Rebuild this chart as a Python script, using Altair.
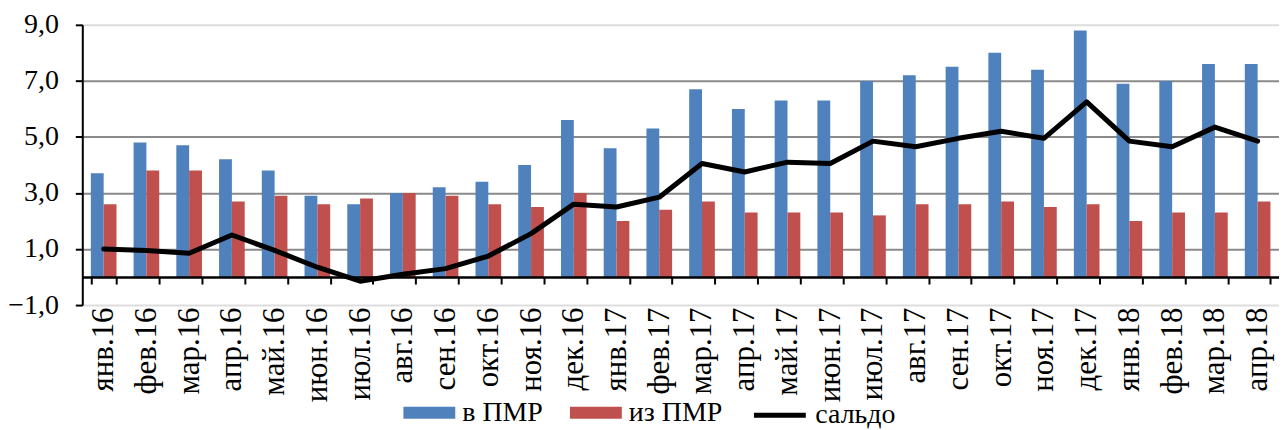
import altair as alt
import pandas as pd

months = ["янв.16", "фев.16", "мар.16", "апр.16", "май.16", "июн.16", "июл.16",
          "авг.16", "сен.16", "окт.16", "ноя.16", "дек.16", "янв.17", "фев.17",
          "мар.17", "апр.17", "май.17", "июн.17", "июл.17", "авг.17", "сен.17",
          "окт.17", "ноя.17", "дек.17", "янв.18", "фев.18", "мар.18", "апр.18"]
v_pmr = [3.7, 4.8, 4.7, 4.2, 3.8, 2.9, 2.6, 3.0, 3.2, 3.4, 4.0, 5.6, 4.6, 5.3,
         6.7, 6.0, 6.3, 6.3, 7.0, 7.2, 7.5, 8.0, 7.4, 8.8, 6.9, 7.0, 7.6, 7.6]
iz_pmr = [2.6, 3.8, 3.8, 2.7, 2.9, 2.6, 2.8, 3.0, 2.9, 2.6, 2.5, 3.0, 2.0, 2.4,
          2.7, 2.3, 2.3, 2.3, 2.2, 2.6, 2.6, 2.7, 2.5, 2.6, 2.0, 2.3, 2.3, 2.7]
saldo = [1.0, 0.95, 0.85, 1.5, 0.95, 0.35, -0.15, 0.1, 0.3, 0.75, 1.55, 2.6, 2.5, 2.85,
         4.05, 3.75, 4.1, 4.05, 4.85, 4.65, 4.95, 5.2, 4.95, 6.25, 4.85, 4.65, 5.35, 4.85]
y_ticks = [-1, 1, 3, 5, 7, 9]

series_names = ["в ПМР", "из ПМР"]
bar_colors = ["#4F81BD", "#C0504D"]
line_name = "сальдо"

bars_df = pd.DataFrame({
    "month": months * 2,
    "series": [series_names[0]] * len(months) + [series_names[1]] * len(months),
    "value": v_pmr + iz_pmr,
})
line_df = pd.DataFrame({"month": months, "value": saldo, "series": line_name})

W, H = 1200, 281
FONT = "Liberation Serif, Times New Roman, Times, serif"

x_scale = alt.Scale(domain=months, paddingInner=0.4, paddingOuter=0.2)
y_scale = alt.Scale(domain=[-1, 9], nice=False, zero=False)

x_axis = alt.Axis(
    title=None, offset=-H / 10, tickBand="extent", domainColor="black", domainWidth=2.5,
    tickColor="black", tickWidth=2, tickSize=7, labelAngle=-90, labelAlign="right",
    labelBaseline="middle", labelPadding=23, labelFont=FONT, labelFontSize=31,
    labelColor="black", zindex=1, grid=False,
)
y_axis = alt.Axis(
    title=None, values=y_ticks,
    labelExpr="replace(format(datum.value, '.1f'), '.', ',')",
    domainColor="black", domainWidth=2, tickColor="black", tickWidth=2, tickSize=7,
    labelPadding=17, labelFont=FONT, labelFontSize=28, labelColor="black",
    grid=True,
    gridColor={"condition": {"test": "datum.value > 0 && datum.value < 8", "value": "#8a8a8a"},
               "value": "#dddddd"},
    gridWidth=2,
)

bars = alt.Chart(bars_df).mark_bar().encode(
    x=alt.X("month:N", scale=x_scale, axis=x_axis),
    xOffset=alt.XOffset("series:N", sort=series_names,
                        scale=alt.Scale(domain=series_names, paddingInner=0, paddingOuter=0)),
    y=alt.Y("value:Q", scale=y_scale, axis=y_axis),
    y2=alt.datum(0),
    color=alt.Color(
        "series:N",
        scale=alt.Scale(domain=series_names, range=bar_colors),
        legend=alt.Legend(
            title=None, orient="none", legendX=322, legendY=363, direction="horizontal",
            labelFont=FONT, labelFontSize=28, labelColor="black", labelOffset=7,
            symbolType="M-1,-0.23L1,-0.23L1,0.23L-1,0.23Z", symbolSize=2704,
            symbolStrokeWidth=0, columnPadding=27, padding=0,
        ),
    ),
)

line = alt.Chart(line_df).mark_line(strokeWidth=5, strokeJoin="round", strokeCap="round").encode(
    x=alt.X("month:N", scale=x_scale, axis=x_axis),
    y=alt.Y("value:Q", scale=y_scale, axis=y_axis),
    stroke=alt.Stroke(
        "series:N",
        scale=alt.Scale(domain=[line_name], range=["black"]),
        legend=alt.Legend(
            title=None, orient="none", legendX=671, legendY=363, direction="horizontal",
            labelFont=FONT, labelFontSize=28, labelColor="black", labelOffset=7,
            symbolType="stroke", symbolSize=2704, symbolStrokeWidth=5, padding=0,
        ),
    ),
)

chart = alt.layer(bars, line).properties(
    width=W, height=H,
    autosize=alt.AutoSizeParams(type="none"),
    padding={"left": 74.5, "top": 16.3, "right": 0, "bottom": 124},
).configure_view(stroke=None).configure(background="white")

chart.save("out.html", embed_options={"renderer": "svg", "actions": False})
